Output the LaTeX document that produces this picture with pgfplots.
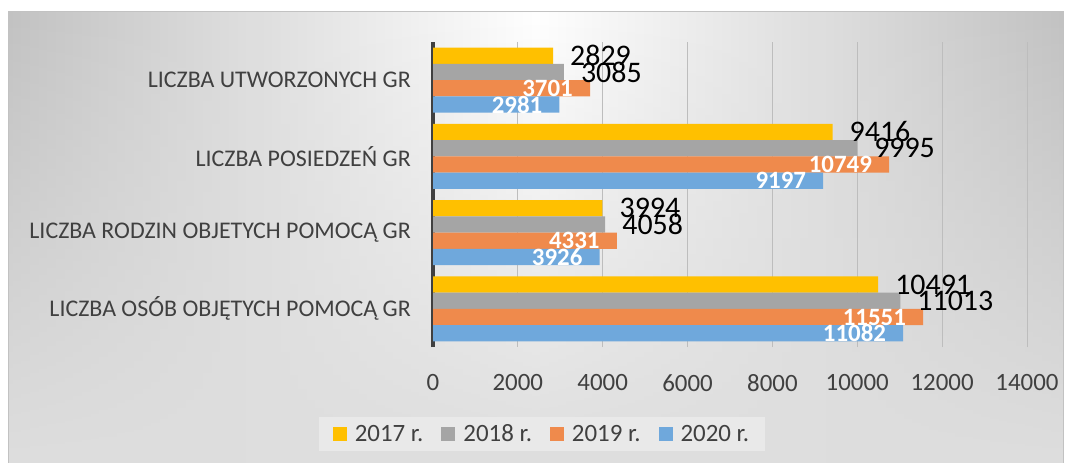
\documentclass[border=0pt]{standalone}
\usepackage{fontspec}
\setmainfont{Carlito}
\usepackage{pgfplots}
\pgfplotsset{compat=1.18}
\usetikzlibrary{fadings}
\definecolor{cY}{HTML}{FFC000}
\definecolor{cG}{HTML}{A5A5A5}
\definecolor{cO}{HTML}{EF8A4C}
\definecolor{cB}{HTML}{6FA8DC}
\definecolor{txt}{HTML}{404040}
\definecolor{edge}{HTML}{C2C2C2}
\definecolor{gridc}{HTML}{BDBDBD}
\definecolor{legbg}{HTML}{E9E9E9}
\begin{document}
\begin{tikzpicture}
\useasboundingbox (0,0) rectangle (1065bp,463bp);
\fill[white] (0,0) rectangle (1065bp,463bp);
\shade[left color=edge, right color=edge, middle color=white] (8bp,0) rectangle (1063bp,451bp);
\fill[black!13, path fading=north] (8bp,0) rectangle (1063bp,451bp);
\draw[edge, line width=1bp] (8bp,0) -- (8bp,451bp) -- (1063bp,451bp) -- (1063bp,0);
\begin{axis}[
  at={(433bp,116bp)}, anchor=south west,
  scale only axis, width=594bp, height=305bp,
  xbar, bar width=0.213,
  xmin=0, xmax=14000, ymin=-0.5, ymax=3.5,
  ytick={0,1,2,3},
  yticklabels={LICZBA OSÓB OBJĘTYCH POMOCĄ GR, LICZBA RODZIN OBJETYCH POMOCĄ GR, LICZBA POSIEDZEŃ GR, LICZBA UTWORZONYCH GR},
  xtick={0,2000,...,14000},
  scaled x ticks=false,
  /pgf/number format/1000 sep={},
  /pgf/number format/assume math mode=true,
  major tick length=0pt,
  axis y line*=left, axis x line*=bottom,
  x axis line style={draw=none},
  y axis line style={draw=txt, line width=3bp},
  xmajorgrids, grid style={gridc, line width=1bp},
  xticklabel style={font=\fontsize{25}{30}\selectfont, text=txt, inner sep=0pt, yshift=-27bp},
  yticklabel style={font=\fontsize{24}{28}\selectfont, text=txt, inner sep=0pt, xshift=-22bp},
  point meta=x,
  legend columns=4,
  legend style={at={(0.1835,-0.285)}, anchor=center, draw=none, fill=legbg,
    font=\fontsize{25}{30}\selectfont, text=txt,
    inner xsep=14bp, inner ysep=6bp,
    /tikz/every even column/.append style={column sep=16bp}},
  legend image code/.code={\fill[#1] (0bp,-7bp) rectangle (14bp,7bp); \path (20bp,0bp);},
]
\addplot[fill=cY, draw=none, bar shift=0.32,
  nodes near coords, every node near coord/.append style={anchor=west, inner sep=0pt, xshift=17bp, font=\fontsize{30}{34}\selectfont, text=black}]
  coordinates {(10491,0) (3994,1) (9416,2) (2829,3)};
\addplot[fill=cG, draw=none, bar shift=0.107,
  nodes near coords, every node near coord/.append style={anchor=west, inner sep=0pt, xshift=17bp, font=\fontsize{30}{34}\selectfont, text=black}]
  coordinates {(11013,0) (4058,1) (9995,2) (3085,3)};
\addplot[fill=cO, draw=none, bar shift=-0.107,
  nodes near coords, every node near coord/.append style={anchor=east, inner sep=0pt, xshift=-17bp, font=\fontsize{25}{30}\selectfont\bfseries, text=white}]
  coordinates {(11551,0) (4331,1) (10749,2) (3701,3)};
\addplot[fill=cB, draw=none, bar shift=-0.32,
  nodes near coords, every node near coord/.append style={anchor=east, inner sep=0pt, xshift=-17bp, font=\fontsize{25}{30}\selectfont\bfseries, text=white}]
  coordinates {(11082,0) (3926,1) (9197,2) (2981,3)};
\legend{2017 r., 2018 r., 2019 r., 2020 r.}
\end{axis}
\end{tikzpicture}
\end{document}
